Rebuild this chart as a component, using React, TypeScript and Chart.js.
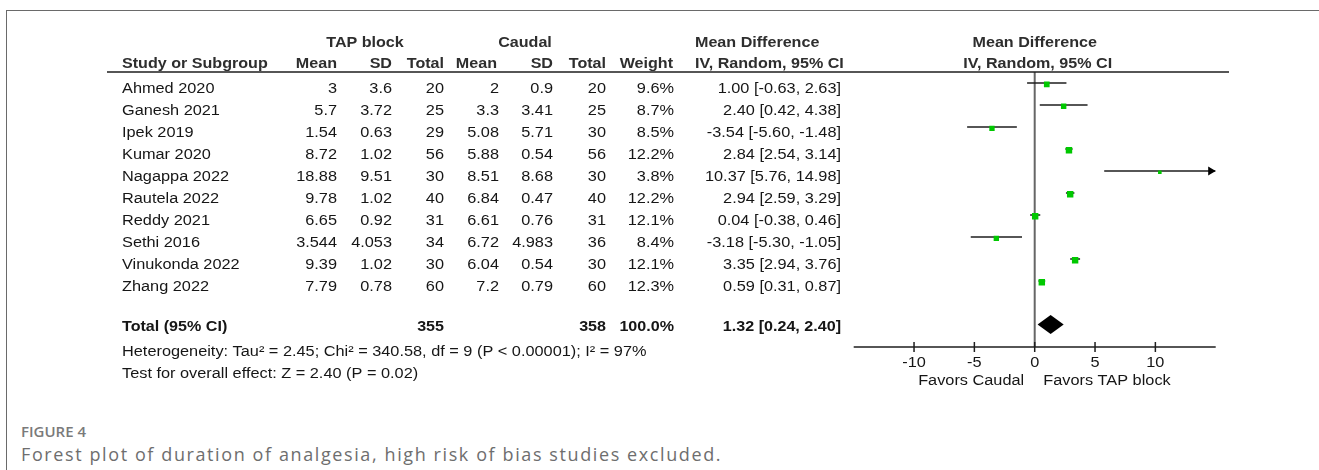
import React, { useEffect, useRef } from "react";
import { Chart, registerables } from "chart.js";

Chart.register(...registerables);

// ---------- data ----------
const STUDIES = [
  "Ahmed 2020",
  "Ganesh 2021",
  "Ipek 2019",
  "Kumar 2020",
  "Nagappa 2022",
  "Rautela 2022",
  "Reddy 2021",
  "Sethi 2016",
  "Vinukonda 2022",
  "Zhang 2022",
];
const TAP_MEAN = [3, 5.7, 1.54, 8.72, 18.88, 9.78, 6.65, 3.544, 9.39, 7.79];
const TAP_SD = [3.6, 3.72, 0.63, 1.02, 9.51, 1.02, 0.92, 4.053, 1.02, 0.78];
const TAP_N = [20, 25, 29, 56, 30, 40, 31, 34, 30, 60];
const CAUDAL_MEAN = [2, 3.3, 5.08, 5.88, 8.51, 6.84, 6.61, 6.72, 6.04, 7.2];
const CAUDAL_SD = [0.9, 3.41, 5.71, 0.54, 8.68, 0.47, 0.76, 4.983, 0.54, 0.79];
const CAUDAL_N = [20, 25, 30, 56, 30, 40, 31, 36, 30, 60];
const WEIGHT = [9.6, 8.7, 8.5, 12.2, 3.8, 12.2, 12.1, 8.4, 12.1, 12.3];
const MD = [1.0, 2.4, -3.54, 2.84, 10.37, 2.94, 0.04, -3.18, 3.35, 0.59];
const MD_LO = [-0.63, 0.42, -5.6, 2.54, 5.76, 2.59, -0.38, -5.3, 2.94, 0.31];
const MD_HI = [2.63, 4.38, -1.48, 3.14, 14.98, 3.29, 0.46, -1.05, 3.76, 0.87];

const TOTAL_TAP_N = 355;
const TOTAL_CAUDAL_N = 358;
const TOTAL_WEIGHT = 100.0;
const TOTAL_MD = 1.32;
const TOTAL_LO = 0.24;
const TOTAL_HI = 2.4;

const HETEROGENEITY =
  "Heterogeneity: Tau\u00B2 = 2.45; Chi\u00B2 = 340.58, df = 9 (P < 0.00001); I\u00B2 = 97%";
const OVERALL = "Test for overall effect: Z = 2.40 (P = 0.02)";

const TICK_VALUES = [-10, -5, 0, 5, 10];
const X_MIN = -15;
const X_MAX = 15;
const LEFT_LABEL = "Favors Caudal";
const RIGHT_LABEL = "Favors TAP block";

const FIG_LABEL = "FIGURE 4";
const FIG_CAPTION =
  "Forest plot of duration of analgesia, high risk of bias studies excluded.";

// ---------- layout / style ----------
const W = 1319;
const CH = 400;
const TOTAL_ROW = 11;
const Y_MIN = -0.5;
const Y_MAX = 12;
const SX = 1.165;
const FONT = '"Liberation Sans", Arial, Helvetica, sans-serif';
const TEXT = "#161616";
const HEAD = "#2e2e2e";

function txt(
  ctx: CanvasRenderingContext2D,
  s: string,
  x: number,
  y: number,
  align: CanvasTextAlign,
  bold = false,
  color = TEXT,
  size = 14
) {
  ctx.save();
  ctx.font = `${bold ? "bold " : ""}${size}px ${FONT}`;
  ctx.fillStyle = color;
  ctx.textAlign = align;
  ctx.textBaseline = "alphabetic";
  ctx.translate(x, y);
  ctx.scale(bold ? 1.15 : SX, 1);
  ctx.fillText(s, 0, 0);
  ctx.restore();
}

const fmtCI = (m: number, lo: number, hi: number) =>
  `${m.toFixed(2)} [${lo.toFixed(2)}, ${hi.toFixed(2)}]`;

const forestPlugin = {
  id: "forestTable",
  afterDatasetsDraw(chart: any) {
    const ctx: CanvasRenderingContext2D = chart.ctx;
    const xs = chart.scales.x;
    const ys = chart.scales.y;
    const area = chart.chartArea;

    // column anchors
    const cStudy = 122;
    const cTapMean = 337;
    const cTapSD = 392;
    const cTapN = 444;
    const cCauMean = 499;
    const cCauSD = 553;
    const cCauN = 606;
    const cWeight = 674;
    const cCI = 841;
    const cMDHead = 695;
    const plotCenter = xs.getPixelForValue(0);

    // headers
    const h1 = 46.5;
    const h2 = 68;
    txt(ctx, "TAP block", 365, h1, "center", true, HEAD);
    txt(ctx, "Caudal", 525, h1, "center", true, HEAD);
    txt(ctx, "Mean Difference", cMDHead, h1, "left", true, HEAD);
    txt(ctx, "Mean Difference", plotCenter, h1, "center", true, HEAD);
    txt(ctx, "Study or Subgroup", cStudy, h2, "left", true, HEAD);
    txt(ctx, "Mean", cTapMean, h2, "right", true, HEAD);
    txt(ctx, "SD", cTapSD, h2, "right", true, HEAD);
    txt(ctx, "Total", cTapN, h2, "right", true, HEAD);
    txt(ctx, "Mean", cCauMean - 2, h2, "right", true, HEAD);
    txt(ctx, "SD", cCauSD, h2, "right", true, HEAD);
    txt(ctx, "Total", cCauN, h2, "right", true, HEAD);
    txt(ctx, "Weight", cWeight - 1, h2, "right", true, HEAD);
    txt(ctx, "IV, Random, 95% CI", cMDHead, h2, "left", true, HEAD);
    txt(ctx, "IV, Random, 95% CI", plotCenter + 3, h2, "center", true, HEAD);

    // header rule
    ctx.save();
    ctx.strokeStyle = "#1e1e1e";
    ctx.lineWidth = 1.5;
    ctx.beginPath();
    ctx.moveTo(107, area.top);
    ctx.lineTo(1229, area.top);
    ctx.stroke();
    ctx.restore();

    // study rows
    STUDIES.forEach((s, i) => {
      const y = ys.getPixelForValue(i) + 10;
      txt(ctx, s, cStudy, y, "left");
      txt(ctx, String(TAP_MEAN[i]), cTapMean, y, "right");
      txt(ctx, String(TAP_SD[i]), cTapSD, y, "right");
      txt(ctx, String(TAP_N[i]), cTapN, y, "right");
      txt(ctx, String(CAUDAL_MEAN[i]), cCauMean, y, "right");
      txt(ctx, String(CAUDAL_SD[i]), cCauSD, y, "right");
      txt(ctx, String(CAUDAL_N[i]), cCauN, y, "right");
      txt(ctx, WEIGHT[i].toFixed(1) + "%", cWeight, y, "right");
      txt(ctx, fmtCI(MD[i], MD_LO[i], MD_HI[i]), cCI, y, "right");
    });

    // total row
    const ty = ys.getPixelForValue(TOTAL_ROW) + 6;
    txt(ctx, "Total (95% CI)", cStudy, ty, "left", true);
    txt(ctx, String(TOTAL_TAP_N), cTapN, ty, "right", true);
    txt(ctx, String(TOTAL_CAUDAL_N), cCauN, ty, "right", true);
    txt(ctx, TOTAL_WEIGHT.toFixed(1) + "%", cWeight, ty, "right", true);
    txt(ctx, fmtCI(TOTAL_MD, TOTAL_LO, TOTAL_HI), cCI, ty, "right", true);
    txt(ctx, HETEROGENEITY, cStudy, ty + 25, "left");
    txt(ctx, OVERALL, cStudy, ty + 47, "left");

    // diamond
    const dy = ys.getPixelForValue(TOTAL_ROW) - 0.5;
    const dh = 9.5;
    ctx.save();
    ctx.fillStyle = "#000";
    ctx.beginPath();
    ctx.moveTo(xs.getPixelForValue(TOTAL_LO), dy);
    ctx.lineTo(xs.getPixelForValue(TOTAL_MD), dy - dh);
    ctx.lineTo(xs.getPixelForValue(TOTAL_HI), dy);
    ctx.lineTo(xs.getPixelForValue(TOTAL_MD), dy + dh);
    ctx.closePath();
    ctx.fill();
    ctx.restore();

    // arrows for CIs running off the axis
    STUDIES.forEach((_, i) => {
      if (MD_HI[i] >= X_MAX - 1) {
        const y = ys.getPixelForValue(i);
        const tip = xs.getPixelForValue(X_MAX);
        ctx.save();
        ctx.fillStyle = "#000";
        ctx.beginPath();
        ctx.moveTo(tip, y);
        ctx.lineTo(tip - 7.5, y - 4.5);
        ctx.lineTo(tip - 7.5, y + 4.5);
        ctx.closePath();
        ctx.fill();
        ctx.restore();
      }
    });

    // x axis
    const ay = area.bottom;
    ctx.save();
    ctx.strokeStyle = "#1e1e1e";
    ctx.lineWidth = 1.5;
    ctx.beginPath();
    ctx.moveTo(xs.getPixelForValue(X_MIN), ay);
    ctx.lineTo(xs.getPixelForValue(X_MAX), ay);
    ctx.stroke();
    TICK_VALUES.forEach((v) => {
      const px = xs.getPixelForValue(v);
      ctx.beginPath();
      ctx.moveTo(px, ay - 5);
      ctx.lineTo(px, ay + 5);
      ctx.stroke();
    });
    ctx.restore();
    TICK_VALUES.forEach((v) => {
      txt(ctx, String(v), xs.getPixelForValue(v), ay + 19.5, "center");
    });
    txt(ctx, LEFT_LABEL, plotCenter - 10.5, ay + 38, "right");
    txt(ctx, RIGHT_LABEL, plotCenter + 8.5, ay + 38, "left");
  },
};

export default function App() {
  const ref = useRef<HTMLCanvasElement | null>(null);

  useEffect(() => {
    if (!ref.current) return;
    const ciSets = STUDIES.map((s, i) => ({
      label: s + " CI",
      data: [
        { x: MD_LO[i], y: i },
        { x: Math.min(MD_HI[i], X_MAX), y: i },
      ],
      showLine: true,
      borderColor: "#1e1e1e",
      borderWidth: 1.5,
      pointRadius: 0,
      order: 2,
    }));
    const chart = new Chart(ref.current, {
      type: "scatter",
      data: {
        datasets: [
          {
            label: "Mean difference",
            data: MD.map((m, i) => ({ x: m, y: i + 0.06 })),
            pointStyle: "rect",
            pointRadius: WEIGHT.map((w) => 1.3 * Math.sqrt(w)),
            backgroundColor: "#00c800",
            borderColor: "#00c800",
            borderWidth: 0,
            order: 1,
          },
          ...ciSets,
          {
            label: "No effect",
            data: [
              { x: 0, y: Y_MIN },
              { x: 0, y: Y_MAX },
            ],
            showLine: true,
            borderColor: "#666666",
            borderWidth: 2,
            pointRadius: 0,
            order: 3,
          },
        ],
      },
      options: {
        animation: false,
        responsive: false,
        devicePixelRatio: 1,
        events: [],
        layout: {
          padding: { left: 853.7, right: W - 1215.7, top: 72, bottom: CH - 347 },
        },
        scales: {
          x: { type: "linear", min: X_MIN, max: X_MAX, display: false },
          y: { type: "linear", min: Y_MIN, max: Y_MAX, reverse: true, display: false },
        },
        plugins: {
          legend: { display: false },
          tooltip: { enabled: false },
        },
      },
      plugins: [forestPlugin],
    });
    return () => chart.destroy();
  }, []);

  return (
    <div
      style={{
        position: "fixed",
        left: 0,
        top: 0,
        width: W,
        height: 470,
        background: "#fff",
        overflow: "hidden",
      }}
    >
      <div
        style={{
          position: "absolute",
          left: 6,
          top: 10,
          right: 0,
          bottom: 0,
          borderTop: "1px solid #6a6a6a",
          borderLeft: "1px solid #6a6a6a",
        }}
      />
      <canvas
        ref={ref}
        width={W}
        height={CH}
        style={{ position: "absolute", left: 0, top: 0, width: W, height: CH }}
      />
      <div
        style={{
          position: "absolute",
          left: 21,
          top: 421,
          font: '600 15px "Open Sans", "Noto Sans", sans-serif',
          lineHeight: "20px",
          color: "#7a7a7a",
          whiteSpace: "nowrap",
        }}
      >
        {FIG_LABEL}
      </div>
      <div
        style={{
          position: "absolute",
          left: 21,
          top: 444,
          font: '18px "Open Sans", "Noto Sans", sans-serif',
          letterSpacing: "1.6px",
          lineHeight: "20px",
          color: "#6e6e6e",
          whiteSpace: "nowrap",
        }}
      >
        {FIG_CAPTION}
      </div>
    </div>
  );
}
